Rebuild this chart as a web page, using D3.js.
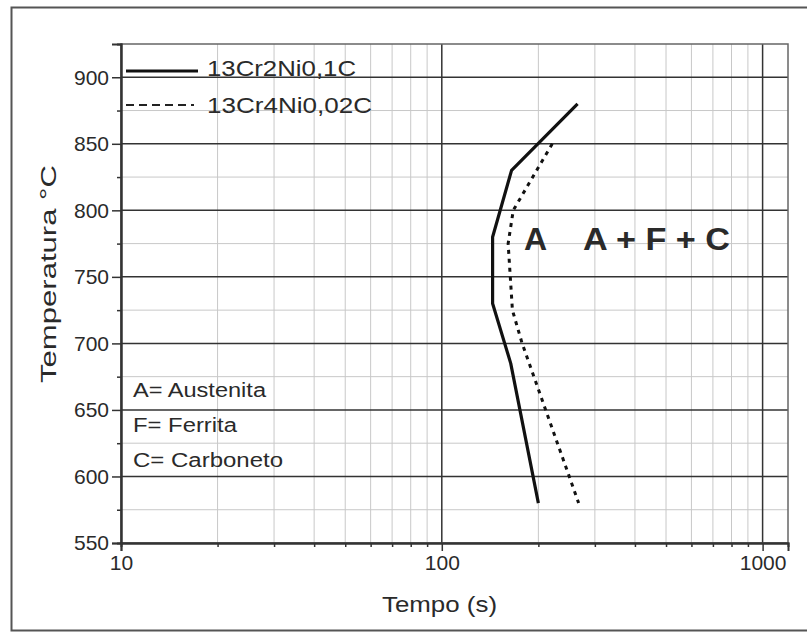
<!DOCTYPE html>
<html>
<head>
<meta charset="utf-8">
<script src="https://cdn.jsdelivr.net/npm/d3@7"></script>
<style>
  body { margin: 0; background: #fff; overflow: hidden; }
  svg { display: block; }
  text { font-family: "Liberation Sans", Arial, sans-serif; fill: #2a2a2a; }
</style>
</head>
<body>
<svg id="chart"></svg>
<script>
// data
const solidName = "13Cr2Ni0,1C";
const solidTime = [265, 165, 144, 144, 164, 200];
const solidTemp = [880, 830, 780, 730, 685, 580];

const dashName = "13Cr4Ni0,02C";
const dashTime = [221, 167, 161, 166, 178, 267];
const dashTemp = [850, 800, 775, 725, 700, 580];

const xTicks = [10, 100, 1000];
const yTicks = [550, 600, 650, 700, 750, 800, 850, 900];
const notes = ["A= Austenita", "F= Ferrita", "C= Carboneto"];

const width = 807, height = 634;
const svg = d3.select("#chart").attr("width", width).attr("height", height);

// outer frame (right edge falls outside the picture)
svg.append("rect")
  .attr("x", 11.5).attr("y", 7.5)
  .attr("width", 830).attr("height", 623)
  .attr("fill", "none").attr("stroke", "#555").attr("stroke-width", 2);

const x = d3.scaleLog().domain([10, 1200]).range([121, 788]);
const y = d3.scaleLinear().domain([550, 925]).range([543, 44]);

// minor grid
const xMinor = [];
[10, 100, 1000].forEach(d => { for (let k = 2; k <= 9; k++) if (d * k <= 1200) xMinor.push(d * k); });
const yMinor = d3.range(575, 925, 50);

const grid = svg.append("g");
grid.selectAll("line.xm").data(xMinor).join("line")
  .attr("x1", d => x(d)).attr("x2", d => x(d))
  .attr("y1", y(550)).attr("y2", y(925))
  .attr("stroke", "#c8c8c8").attr("stroke-width", 1);
grid.selectAll("line.ym").data(yMinor).join("line")
  .attr("x1", x(10)).attr("x2", x(1200))
  .attr("y1", d => y(d)).attr("y2", d => y(d))
  .attr("stroke", "#c8c8c8").attr("stroke-width", 1);

// major grid
grid.selectAll("line.xM").data([100, 1000]).join("line")
  .attr("x1", d => x(d)).attr("x2", d => x(d))
  .attr("y1", y(550)).attr("y2", y(925))
  .attr("stroke", "#333").attr("stroke-width", 1.5);
grid.selectAll("line.yM").data(yTicks.slice(1)).join("line")
  .attr("x1", x(10)).attr("x2", x(1200))
  .attr("y1", d => y(d)).attr("y2", d => y(d))
  .attr("stroke", "#333").attr("stroke-width", 1.5);

// frame of plot
svg.append("rect")
  .attr("x", x(10)).attr("y", y(925))
  .attr("width", x(1200) - x(10)).attr("height", y(550) - y(925))
  .attr("fill", "none").attr("stroke", "#666").attr("stroke-width", 1.5);

// axes
const yAxis = svg.append("g").attr("transform", `translate(${x(10)},0)`)
  .call(d3.axisLeft(y).tickValues(yTicks).tickSize(9).tickPadding(3).tickFormat(d3.format("d")));
svg.append("g").attr("transform", `translate(${x(10)},0)`)
  .call(d3.axisLeft(y).tickValues(yMinor).tickSize(4).tickFormat(""));
const xAxis = svg.append("g").attr("transform", `translate(0,${y(550)})`)
  .call(d3.axisBottom(x).tickValues(xTicks).tickSize(8).tickPadding(4).tickFormat(d3.format("d")));
svg.append("g").attr("transform", `translate(0,${y(550)})`)
  .call(d3.axisBottom(x).tickValues(xMinor).tickSize(4).tickFormat(""));

svg.selectAll(".domain").attr("stroke", "#333").attr("stroke-width", 2);
svg.selectAll(".tick line").attr("stroke", "#333").attr("stroke-width", 1.5);
yAxis.selectAll("text").attr("font-size", 21).attr("fill", "#333").style("font-family", "Liberation Sans, Arial, sans-serif");
xAxis.selectAll("text").attr("font-size", 21).attr("fill", "#333").style("font-family", "Liberation Sans, Arial, sans-serif");

// curves
const line = d3.line().x(d => x(d[0])).y(d => y(d[1]));
svg.append("path")
  .attr("d", line(d3.zip(solidTime, solidTemp)))
  .attr("fill", "none").attr("stroke", "#111").attr("stroke-width", 3.2)
  .attr("stroke-linejoin", "round");
svg.append("path")
  .attr("d", line(d3.zip(dashTime, dashTemp)))
  .attr("fill", "none").attr("stroke", "#111").attr("stroke-width", 3)
  .attr("stroke-dasharray", "4,5");

// legend
svg.append("line").attr("x1", 126).attr("x2", 198).attr("y1", 71).attr("y2", 71)
  .attr("stroke", "#111").attr("stroke-width", 3);
svg.append("line").attr("x1", 126).attr("x2", 194).attr("y1", 105).attr("y2", 105)
  .attr("stroke", "#222").attr("stroke-width", 1.8).attr("stroke-dasharray", "8,5");
svg.append("text").attr("x", 207).attr("y", 76).attr("font-size", 22)
  .attr("textLength", 149).attr("lengthAdjust", "spacingAndGlyphs").text(solidName);
svg.append("text").attr("x", 207).attr("y", 113).attr("font-size", 22)
  .attr("textLength", 165).attr("lengthAdjust", "spacingAndGlyphs").text(dashName);

// phase notes
const noteLen = [133, 104, 150];
svg.selectAll("text.note").data(notes).join("text")
  .attr("class", "note")
  .attr("x", 133).attr("y", (d, i) => 397 + i * 35)
  .attr("font-size", 20)
  .attr("textLength", (d, i) => noteLen[i]).attr("lengthAdjust", "spacingAndGlyphs")
  .text(d => d);

// region labels
svg.append("text").attr("x", 524).attr("y", 250).attr("font-size", 32)
  .attr("font-weight", "bold").attr("fill", "#111").text("A");
svg.append("text").attr("x", 583).attr("y", 250).attr("font-size", 32)
  .attr("font-weight", "bold").attr("fill", "#111")
  .attr("textLength", 147).attr("lengthAdjust", "spacingAndGlyphs").text("A + F + C");

// axis titles
svg.append("text").attr("x", 382).attr("y", 612).attr("font-size", 22)
  .attr("textLength", 115).attr("lengthAdjust", "spacingAndGlyphs").text("Tempo (s)");
svg.append("text")
  .attr("transform", "translate(56,383) rotate(-90)")
  .attr("font-size", 22)
  .attr("textLength", 218).attr("lengthAdjust", "spacingAndGlyphs").text("Temperatura °C");
</script>
</body>
</html>
